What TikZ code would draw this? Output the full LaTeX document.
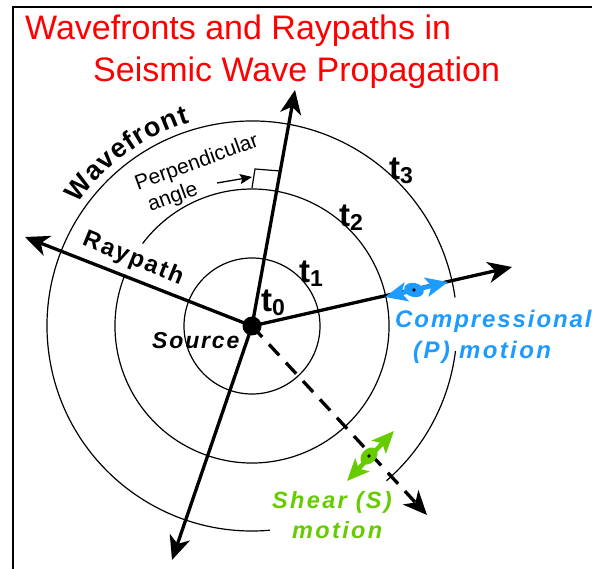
\documentclass[tikz,border=0pt]{standalone}
\usepackage{fontspec}
\setmainfont{Liberation Sans}
\newfontfamily\spfont[LetterSpace=8]{Liberation Sans}
\newfontfamily\wideFont[LetterSpace=10]{Liberation Sans}
\usetikzlibrary{arrows.meta,decorations.text}
\definecolor{pblue}{RGB}{30,155,255}
\definecolor{sgreen}{RGB}{102,204,0}
\definecolor{tred}{RGB}{255,0,0}
\newcommand{\tlab}[1]{{\bfseries\fontsize{33}{33}\selectfont t\raisebox{-4pt}{\fontsize{23}{23}\selectfont #1}}}
\tikzset{
  ray/.style={line width=3.3pt, -{Stealth[length=24pt,width=21pt,inset=7pt]}},
  wave/.style={line width=1.2pt},
  lab/.style={inner sep=0pt, anchor=base west},
  motion/.style={line width=4.5pt, {Stealth[length=22pt,width=19pt,inset=5pt]}-{Stealth[length=22pt,width=19pt,inset=5pt]}}
}
\begin{document}
\begin{tikzpicture}[x=1pt,y=-1pt]
\useasboundingbox (0,0) rectangle (592,569);
\fill[white] (0,0) rectangle (592,569);
\draw[line width=2pt] (592,7) -- (13,7) -- (13,569);
% title
\node[lab, text=tred, font=\fontsize{34}{40}\selectfont] (title1) at (25,40) {Wavefronts and Raypaths in};
\node[lab, text=tred, font=\fontsize{34}{40}\selectfont] (title2) at (93,82) {Seismic Wave Propagation};
% source
\coordinate (S) at (252,326);
% wavefronts
\draw[wave] (S) circle[radius=68];
\draw[wave] (S) ++(-158:137) arc[start angle=-158, end angle=-503, radius=137];
\draw[wave] (S) ++(-8:205) arc[start angle=-8, end angle=-275, radius=205];
\draw[wave] (S) ++(49:205) arc[start angle=49, end angle=7, radius=205];
% rays
\coordinate (up) at (295,90);
\coordinate (down) at (172,560);
\coordinate (left) at (25,237);
\coordinate (right) at (512,267);
\coordinate (dtip) at (427,515);
\draw[ray] (S) -- (up);
\draw[ray] (S) -- (down);
\draw[ray] (S) -- (left);
\draw[ray] (S) -- (right);
\draw[ray, dash pattern=on 15pt off 10pt] (S) -- (dtip);
\node[circle, fill=black, minimum size=19pt, inner sep=0pt] (src) at (S) {};
% perpendicular angle
\coordinate (pa) at (217,183);
\coordinate (pb) at (252,177);
\draw[line width=1.3pt, -{Stealth[length=12pt,width=10pt,inset=2pt]}] (pa) -- (pb);
\coordinate (b1) at (252,188);
\coordinate (b2) at (255,169);
\coordinate (b3) at (280,171);
\draw[line width=1.2pt] (b1) -- (b2) -- (b3);
% P motion
\coordinate (pl) at (385,297);
\coordinate (pr) at (448,282);
\coordinate (pc) at (414,290);
\draw[motion, pblue] (pl) -- (pr);
\fill[pblue, rotate around={-13:(pc)}] (pc) ellipse[x radius=10, y radius=7];
\fill[black] (pc) circle[radius=1.8];
% S motion
\coordinate (sl) at (347,481);
\coordinate (sr) at (394,431);
\coordinate (sc) at (369,456);
\draw[motion, sgreen] (sl) -- (sr);
\fill[sgreen, rotate around={45:(sc)}] (sc) ellipse[x radius=10, y radius=7];
\fill[black] (sc) circle[radius=1.8];
% labels
\path[decorate, decoration={text along path, text align={fit to path},
  text={|\bfseries\fontsize{27}{27}\selectfont|Wavefront}}]
  (S) ++(-145:213) arc[start angle=-145, end angle=-107, radius=213];
\node[rotate=20, inner sep=0pt, font=\fontsize{21}{21}\selectfont] (perp) at (197,163) {Perpendicular};
\node[rotate=20, inner sep=0pt, font=\fontsize{21}{21}\selectfont] (angle) at (173,198) {angle};
\node[rotate=-22, inner sep=0pt, font=\spfont\bfseries\fontsize{24}{24}\selectfont] (raypath) at (133,259) {Raypath};
\node[lab, font=\spfont\bfseries\itshape\fontsize{23}{23}\selectfont] (source) at (152,349) {Source};
\node[lab] (t0) at (261,312) {\tlab{0}};
\node[lab] (t1) at (299,283) {\tlab{1}};
\node[lab] (t2) at (339,227) {\tlab{2}};
\node[lab] (t3) at (389,180) {\tlab{3}};
\node[lab, text=pblue, font=\spfont\bfseries\itshape\fontsize{24}{24}\selectfont] (comp) at (395,328) {Compressional};
\node[lab, text=pblue, font=\wideFont\bfseries\itshape\fontsize{24}{24}\selectfont] (pmot) at (413,359) {(P) motion};
\node[lab, text=sgreen, font=\wideFont\bfseries\itshape\fontsize{23.5}{23.5}\selectfont] (shear) at (272,508) {Shear (S)};
\node[lab, text=sgreen, font=\wideFont\bfseries\itshape\fontsize{23.5}{23.5}\selectfont] (smot) at (292,538) {motion};
\end{tikzpicture}
\end{document}
